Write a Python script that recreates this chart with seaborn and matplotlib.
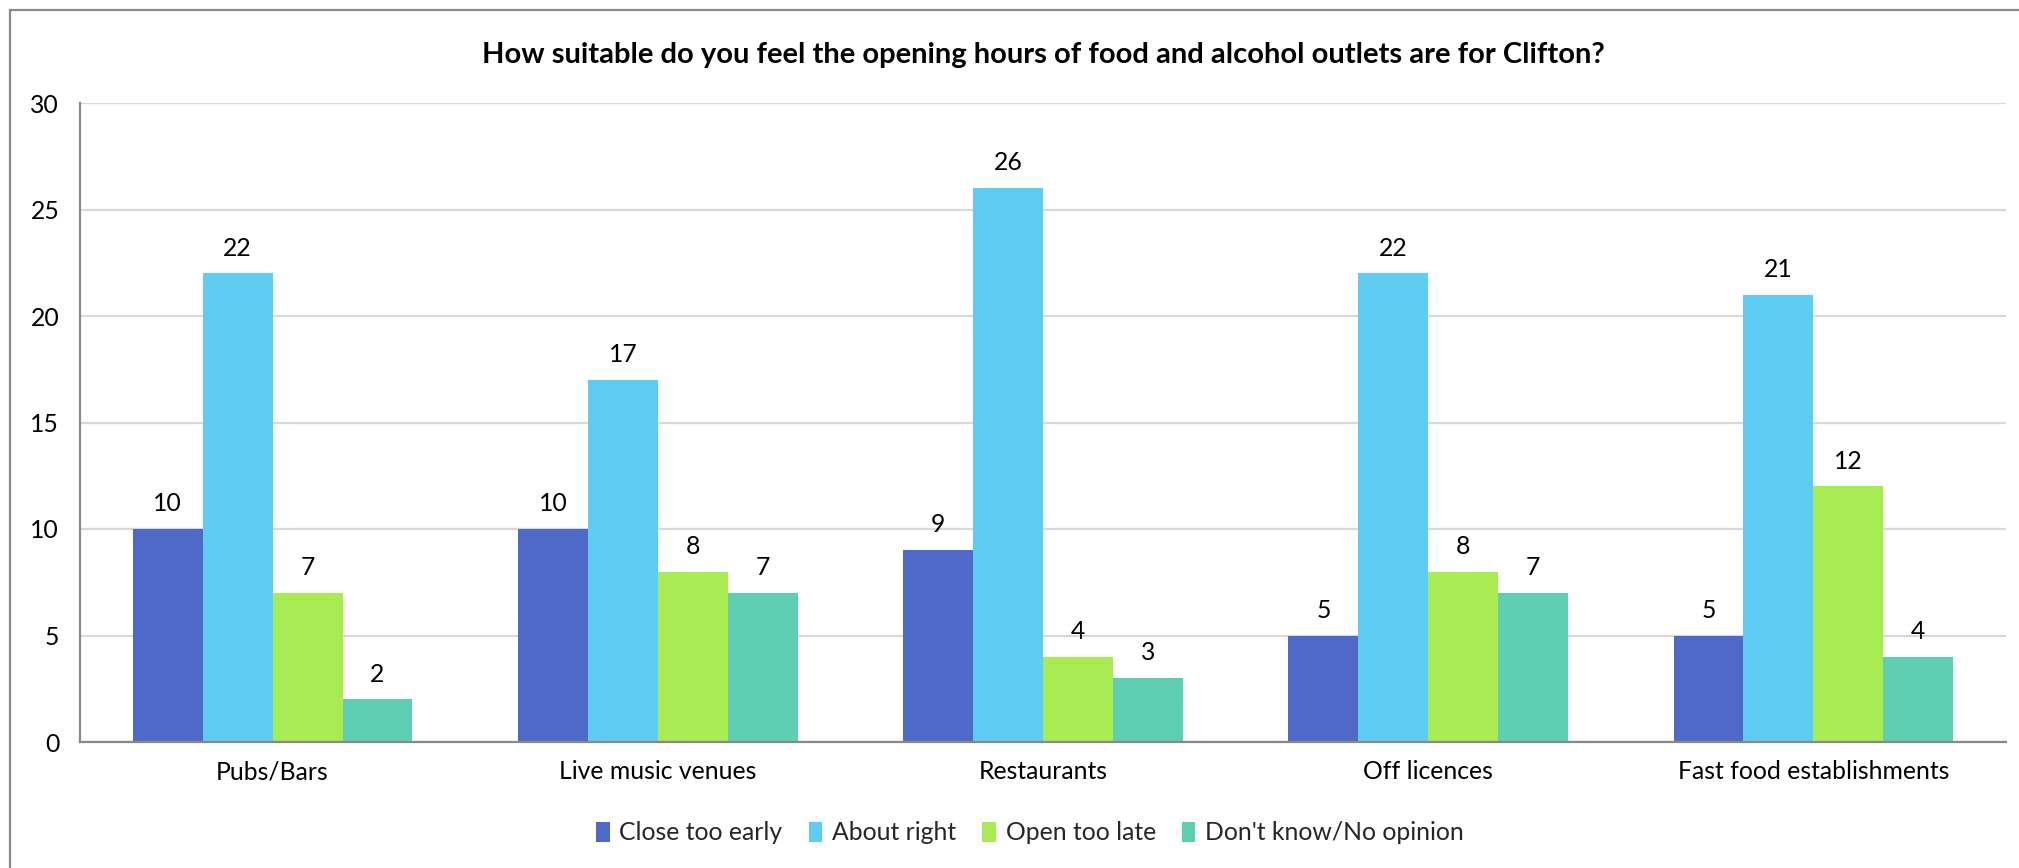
import matplotlib
matplotlib.use("Agg")
import matplotlib.pyplot as plt
import seaborn as sns
import pandas as pd
from matplotlib.patches import Rectangle, Patch

categories = ["Pubs/Bars", "Live music venues", "Restaurants", "Off licences", "Fast food establishments"]
series_names = ["Close too early", "About right", "Open too late", "Don't know/No opinion"]
close_too_early = [10, 10, 9, 5, 5]
about_right = [22, 17, 26, 22, 21]
open_too_late = [7, 8, 4, 8, 12]
dont_know = [2, 7, 3, 7, 4]
y_ticks = [0, 5, 10, 15, 20, 25, 30]
title = "How suitable do you feel the opening hours of food and alcohol outlets are for Clifton?"
colors = ["#4F69C8", "#5FCDF2", "#A9EB53", "#5ECFB3"]

values = [close_too_early, about_right, open_too_late, dont_know]
rows = []
for s, vals in zip(series_names, values):
    for c, v in zip(categories, vals):
        rows.append({"category": c, "series": s, "value": v})
df = pd.DataFrame(rows)

sns.set_theme(style="white")
plt.rcParams['font.family'] = ['Lato', 'DejaVu Sans']

FS = 17.8
W, H = 2019, 868
fig = plt.figure(figsize=(W / 100, H / 100), dpi=100)
ax = fig.add_axes([80 / W, 1 - 742 / H, (2006 - 80) / W, (742 - 103) / H])

sns.barplot(data=df, x="category", y="value", hue="series", order=categories,
            hue_order=series_names, palette=colors, width=0.726, ax=ax,
            saturation=1, legend=False, linewidth=0, errorbar=None)

for cont in ax.containers:
    ax.bar_label(cont, fmt="%d", padding=10, fontsize=FS, color="#000000")

ax.set_ylim(0, 30)
ax.set_xlim(-0.5, len(categories) - 0.5)
ax.set_yticks(y_ticks)
ax.set_yticklabels([str(t) for t in y_ticks], fontsize=FS, color="#000000")
ax.set_xlabel("")
ax.set_ylabel("")
ax.yaxis.grid(True, color="#D9D9D9", linewidth=1.6)
ax.set_axisbelow(True)
for side in ["top", "right"]:
    ax.spines[side].set_visible(False)
for side in ["left", "bottom"]:
    ax.spines[side].set_color("#898989")
    ax.spines[side].set_linewidth(1.6)

# x ticks: labels at centers, tick marks at boundaries
ax.set_xticks(range(len(categories)))
ax.set_xticklabels(categories, fontsize=FS, color="#000000")
ax.tick_params(axis="x", which="major", length=0, pad=13)
ax.set_xticks([i - 0.5 for i in range(len(categories) + 1)], minor=True)
ax.tick_params(axis="x", which="minor", length=8, width=1.6, color="#898989", direction="out")
ax.tick_params(axis="y", which="major", length=7, width=1.6, color="#898989", direction="out", pad=8)

fig.text((80 + 2006) / 2 / W, 1 - 55 / H, title, ha="center", va="center",
         fontsize=21, fontweight="bold", color="#000000")

handles = [Patch(facecolor=c, edgecolor="none") for c in colors]
fig.legend(handles, series_names, loc="center", bbox_to_anchor=(1030 / W, 1 - 833 / H),
           ncol=4, frameon=False, fontsize=FS, handlelength=0.55, handleheight=0.85,
           handletextpad=0.4, columnspacing=1.05)

fig.patches.append(Rectangle((10 / W, -0.1), 1.2, 1 - 10 / H + 0.1, transform=fig.transFigure,
                             fill=False, edgecolor="#898989", linewidth=1.6))

fig.savefig("out.png", dpi=100)
